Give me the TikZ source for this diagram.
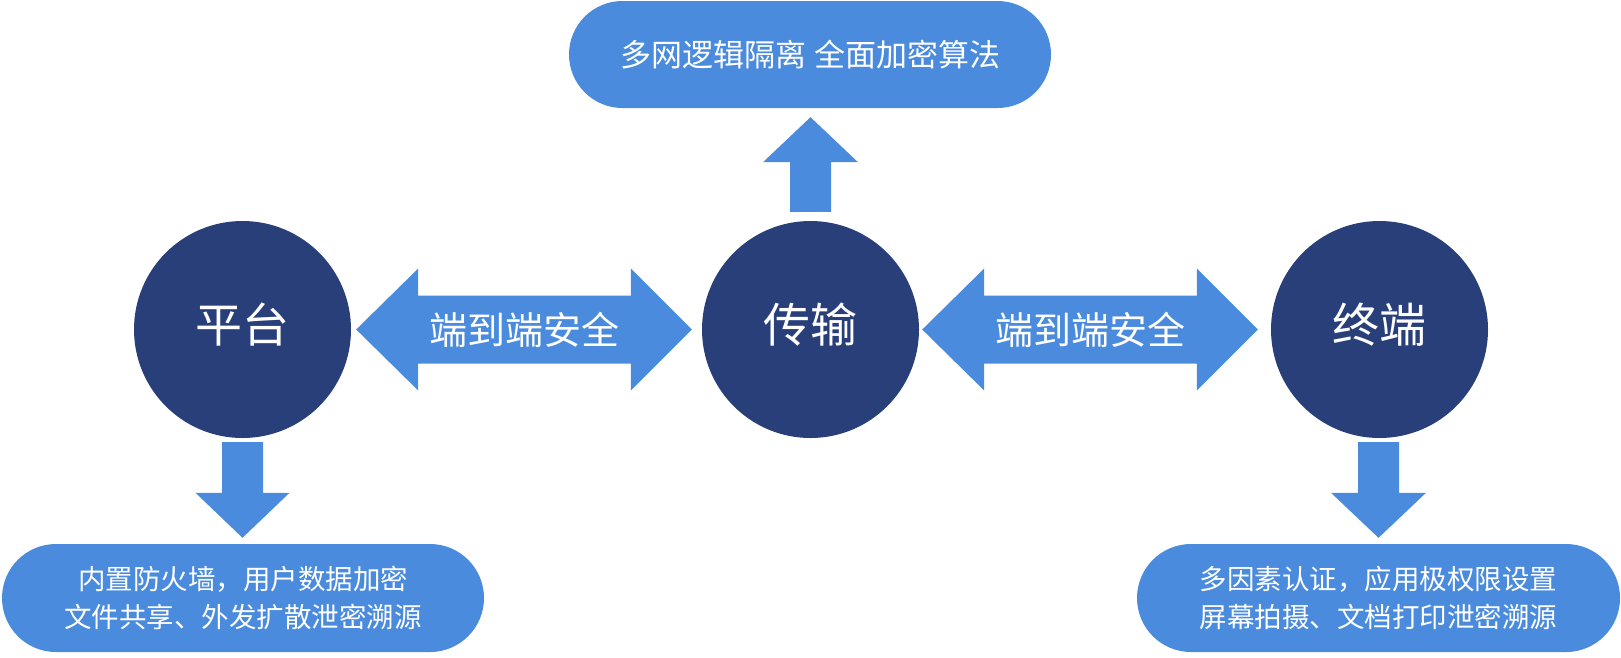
\documentclass[tikz,border=0pt]{standalone}
\usepackage{fontspec}
\newfontfamily\cjk{Noto Sans CJK SC}
\usetikzlibrary{calc}
\definecolor{navy}{RGB}{40,63,122}
\definecolor{skyblue}{RGB}{74,139,221}
\tikzset{
  circ/.style={circle, fill=navy, draw=none, minimum size=217pt, inner sep=0pt},
  ctext/.style={text=white, inner sep=0pt, font=\cjk\fontsize{47}{50}\selectfont},
  pill/.style={fill=skyblue, draw=none, rounded corners=53.5pt, minimum height=107pt, inner sep=0pt, text=white},
  bfont/.style={font=\cjk\fontsize{27.5}{38}\selectfont, align=center},
  tfont/.style={font=\cjk\fontsize{31}{34}\selectfont},
  blockarrow/.style={fill=skyblue, draw=none},
  atext/.style={text=white, inner sep=0pt, font=\cjk\fontsize{38}{40}\selectfont}
}
\begin{document}
\begin{tikzpicture}[x=1pt,y=-1pt]
\useasboundingbox (0,0) rectangle (1621,657);
% circles
\node[circ] (pt) at (242.5,329.5) {};
\node[circ] (cs) at (810.5,329.5) {};
\node[circ] (zd) at (1379.5,329.5) {};
\node[ctext] (ptl) at ($(pt)+(0,-4.5)$) {平台};
\node[ctext] (csl) at ($(cs)+(0,-4.5)$) {传输};
\node[ctext] (zdl) at ($(zd)+(0,-4.5)$) {终端};
% pills
\node[pill, tfont, minimum width=482pt] (tp) at (810,54.5) {多网逻辑隔离\hspace{8pt}全面加密算法};
\node[pill, bfont, minimum width=482pt, minimum height=108pt, rounded corners=54pt] (lp) at (243,598) {内置防火墙，用户数据加密\\文件共享、外发扩散泄密溯源};
\node[pill, bfont, minimum width=483pt, minimum height=108pt, rounded corners=54pt] (rp) at (1378.5,598) {多因素认证，应用极权限设置\\屏幕拍摄、文档打印泄密溯源};
% double arrows
\coordinate (a1) at ($(pt.east)+(5,0)$);
\coordinate (a2) at ($(cs.west)+(-10,0)$);
\fill[blockarrow] (a1) -- ++(62,-61) -- ++(0,27) -- ($(a2)+(-61,-34)$) -- ++(0,-27) -- (a2)
  -- ++(-61,61) -- ++(0,-27) -- ($(a1)+(62,34)$) -- ++(0,27) -- cycle;
\node[atext] (al) at ($(a1)!0.5!(a2)$) {端到端安全};
\coordinate (b1) at ($(cs.east)+(3,0)$);
\coordinate (b2) at ($(zd.west)+(-13,0)$);
\fill[blockarrow] (b1) -- ++(62,-61) -- ++(0,27) -- ($(b2)+(-61,-34)$) -- ++(0,-27) -- (b2)
  -- ++(-61,61) -- ++(0,-27) -- ($(b1)+(62,34)$) -- ++(0,27) -- cycle;
\node[atext] (bl) at ($(b1)!0.5!(b2)$) {端到端安全};
% up arrow
\coordinate (u1) at ($(cs.north)+(0,-9)$);
\coordinate (u2) at ($(tp.south)+(0.5,9)$);
\fill[blockarrow] ($(u1)+(-20.5,0)$) -- ($(u1)+(20.5,0)$) -- ($(u2)+(20.5,45)$) -- ($(u2)+(47.5,45)$)
  -- (u2) -- ($(u2)+(-47.5,45)$) -- ($(u2)+(-20.5,45)$) -- cycle;
% down arrows
\coordinate (d1) at ($(pt.south)+(0,4)$);
\coordinate (d2) at ($(lp.north)+(-0.5,-6)$);
\fill[blockarrow] ($(d1)+(-20.5,0)$) -- ($(d1)+(20.5,0)$) -- ($(d2)+(20.5,-45)$) -- ($(d2)+(47,-45)$)
  -- (d2) -- ($(d2)+(-47,-45)$) -- ($(d2)+(-20.5,-45)$) -- cycle;
\coordinate (e1) at ($(zd.south)+(-1,4)$);
\coordinate (e2) at ($(rp.north)+(0,-6)$);
\fill[blockarrow] ($(e1)+(-20.5,0)$) -- ($(e1)+(20.5,0)$) -- ($(e2)+(20.5,-45)$) -- ($(e2)+(47.5,-45)$)
  -- (e2) -- ($(e2)+(-47.5,-45)$) -- ($(e2)+(-20.5,-45)$) -- cycle;
\end{tikzpicture}
\end{document}
